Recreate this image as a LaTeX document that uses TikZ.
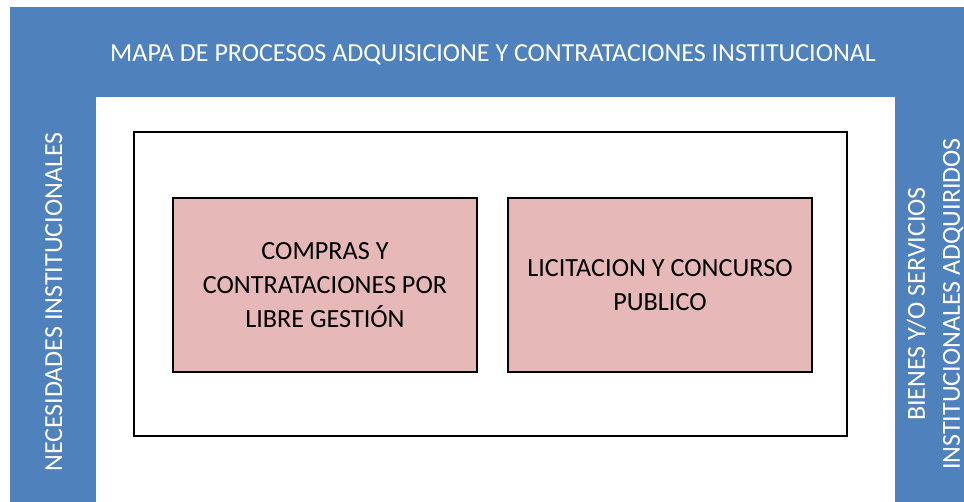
\documentclass[tikz,border=0pt]{standalone}
\usepackage{fontspec}
\setmainfont{Carlito}
\definecolor{frameblue}{HTML}{4F81BD}
\definecolor{procpink}{HTML}{E6B8B7}
\begin{document}
\begin{tikzpicture}[x=1pt, y=-1pt, proc node/.style={rectangle,draw,fill=procpink,line width=1.6pt,minimum width=304pt,minimum height=174pt,align=center,font=\fontsize{26.2}{34}\selectfont}, band text/.style={text=white,align=center,font=\fontsize{26}{35}\selectfont}]
\useasboundingbox (0,0) rectangle (964,502);
\begin{scope}
\fill[frameblue] (10,7) rectangle (964,502);
\fill[white] (96,97) rectangle (895,502);
\node[draw, line width=1.6pt, minimum width=713pt, minimum height=304pt] (area) at (490.5,284) {};
\end{scope}
\begin{scope}[every node/.style={band text}]
\node[anchor=base] (title) at (493,62) {MAPA DE PROCESOS ADQUISICIONE Y CONTRATACIONES INSTITUCIONAL};
\node[anchor=base, rotate=90] (needs) at (62,302) {NECESIDADES INSTITUCIONALES};
\node[rotate=90] (goods) at (935,304) {BIENES Y/O SERVICIOS\\INSTITUCIONALES ADQUIRIDOS};
\end{scope}
\begin{scope}
\node[proc node] (free) at (325,285) {COMPRAS Y\\CONTRATACIONES POR\\LIBRE GESTIÓN};
\node[proc node] (tender) at (660,285) {LICITACION Y CONCURSO\\PUBLICO};
\end{scope}
\end{tikzpicture}
\end{document}
